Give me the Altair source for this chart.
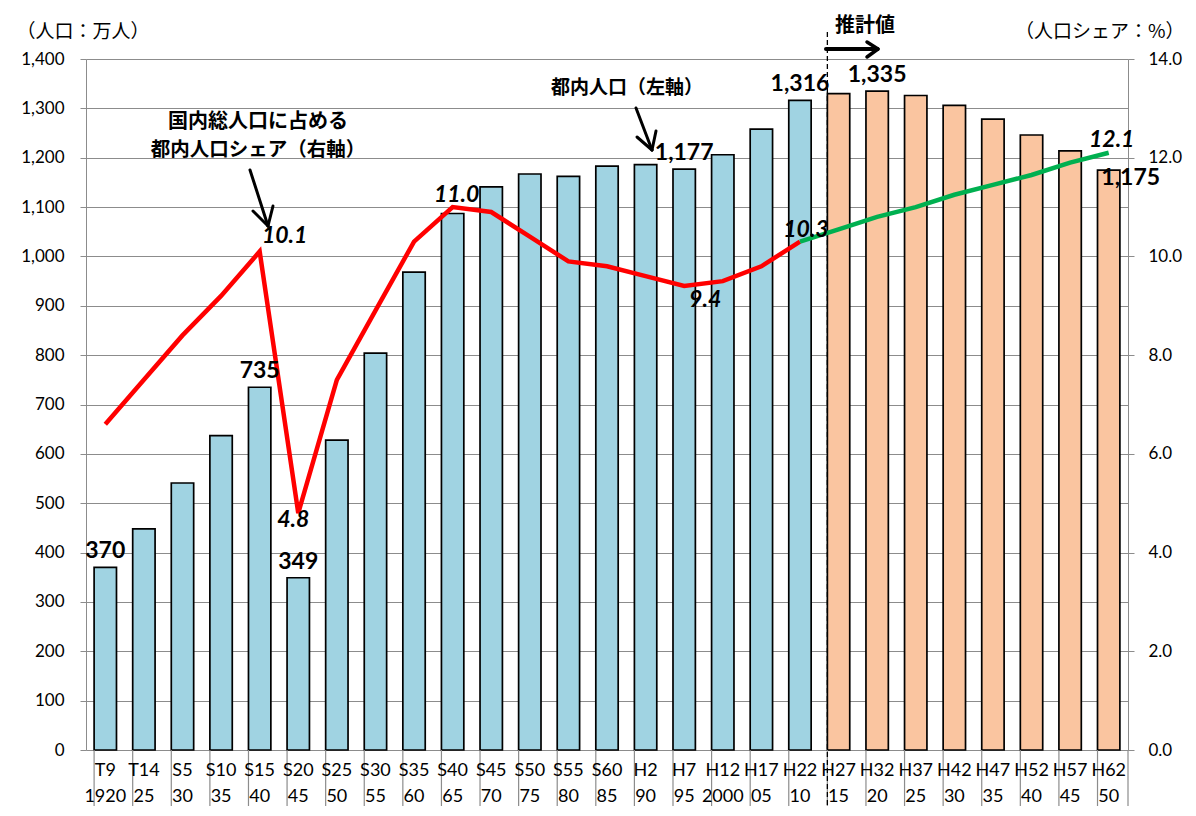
import altair as alt
import pandas as pd

# ---------------- data ----------------
cats_top = ["T9", "T14", "S5", "S10", "S15", "S20", "S25", "S30", "S35", "S40",
            "S45", "S50", "S55", "S60", "H2", "H7", "H12", "H17", "H22",
            "H27", "H32", "H37", "H42", "H47", "H52", "H57", "H62"]
cats_year = ["1920", "25", "30", "35", "40", "45", "50", "55", "60", "65",
             "70", "75", "80", "85", "90", "95", "2000", "05", "10",
             "15", "20", "25", "30", "35", "40", "45", "50"]
population = [370, 448, 541, 637, 735, 349, 628, 804, 968, 1087,
              1141, 1167, 1162, 1183, 1186, 1177, 1206, 1258, 1316,
              1330, 1335, 1326, 1306, 1278, 1246, 1214, 1175]
share_actual = [6.6, 7.5, 8.4, 9.2, 10.1, 4.8, 7.5, 8.9, 10.3, 11.0,
                10.9, 10.4, 9.9, 9.8, 9.6, 9.4, 9.5, 9.8, 10.3]
share_projected = [10.3, 10.55, 10.8, 11.0, 11.25, 11.45, 11.65, 11.9, 12.1]
n_actual = 19

keys = [f"{a}|{b}" for a, b in zip(cats_top, cats_year)]

W, H = 1042, 691
BOTTOM = 747
GRID = "#8c8c8c"
BLUE = "#a0d3e2"
ORANGE = "#fac5a0"
NUMFONT = "Lato"
JPFONT = "Noto Sans CJK JP"

xscale = alt.Scale(domain=keys, paddingInner=0.42, paddingOuter=0.21)
Xn = alt.X("cat:N", scale=xscale, sort=None, axis=None)
pop_scale = alt.Scale(domain=[0, 1400], nice=False, zero=True)
share_scale = alt.Scale(domain=[0, 14], nice=False, zero=True)

bars_df = pd.DataFrame({
    "cat": keys,
    "top": cats_top,
    "year": cats_year,
    "pop": population,
    "period": ["実績"] * n_actual + ["推計"] * (len(keys) - n_actual),
})
red_df = pd.DataFrame({"cat": keys[:n_actual], "share": share_actual})
green_df = pd.DataFrame({"cat": keys[n_actual - 1:], "share": share_projected})

# ---------------- bars ----------------
bars = alt.Chart(bars_df).mark_bar(stroke="black", strokeWidth=1.7).encode(
    x=Xn,
    y=alt.Y("pop:Q", scale=pop_scale,
            axis=alt.Axis(values=list(range(0, 1401, 100)), format=",.0f",
                          grid=True, gridColor=GRID, gridWidth=1.2,
                          tickColor=GRID, tickSize=6, domainColor=GRID,
                          labelPadding=16, labelFontSize=17, labelFont=NUMFONT,
                          labelColor="black",
                          title="（人口：万人）", titleAngle=0, titleX=-70, titleY=-28,
                          titleAlign="left", titleBaseline="middle",
                          titleFont=JPFONT, titleFontSize=19, titleFontWeight="normal",
                          titleColor="black")),
    color=alt.Color("period:N", scale=alt.Scale(domain=["実績", "推計"], range=[BLUE, ORANGE]),
                    legend=None),
)

# category labels (two rows) and separators below the plot
lab_top = alt.Chart(bars_df).mark_text(
    font=NUMFONT, fontSize=18, color="black", baseline="middle").encode(
    x=Xn, y=alt.value(H + 21), text="top:N")
lab_year = alt.Chart(bars_df).mark_text(
    font=NUMFONT, fontSize=18, color="black", baseline="middle").encode(
    x=Xn, y=alt.value(H + 47), text="year:N")
sep = alt.Chart(bars_df).mark_rule(color=GRID, strokeWidth=1.2).encode(
    x=alt.X("cat:N", scale=xscale, sort=None, axis=None, bandPosition=0),
    y=alt.value(H), y2=alt.value(BOTTOM))
sep_end = alt.Chart(pd.DataFrame({"k": [0]})).mark_rule(color=GRID, strokeWidth=1.2).encode(
    x=alt.value(W), y=alt.value(H), y2=alt.value(BOTTOM))

# ---------------- share lines ----------------
red = alt.Chart(red_df).mark_line(color="#ff0000", strokeWidth=4.5).encode(
    x=Xn,
    y=alt.Y("share:Q", scale=share_scale,
            axis=alt.Axis(orient="right", values=list(range(0, 15, 2)), format=".1f",
                          grid=False, tickColor=GRID, tickSize=6, domainColor=GRID,
                          labelPadding=14, labelFontSize=17, labelFont=NUMFONT,
                          labelColor="black",
                          title="（人口シェア：%）", titleAngle=0, titleX=56, titleY=-28,
                          titleAlign="right", titleBaseline="middle",
                          titleFont=JPFONT, titleFontSize=19, titleFontWeight="normal",
                          titleColor="black")),
)
green = alt.Chart(green_df).mark_line(color="#00b050", strokeWidth=4.5).encode(
    x=Xn, y=alt.Y("share:Q", scale=share_scale, axis=None))

# ---------------- value labels ----------------
lab_idx = [0, 4, 5, 15, 18, 20]
barlab_df = pd.DataFrame({
    "cat": [keys[i] for i in lab_idx],
    "pop": [population[i] for i in lab_idx],
    "t": [f"{population[i]:,}" for i in lab_idx],
})
barlabels = alt.Chart(barlab_df).mark_text(
    font=NUMFONT, fontSize=23, fontWeight="bold", color="black", dy=-16, baseline="middle"
).encode(x=Xn, y=alt.Y("pop:Q", scale=pop_scale, axis=None), text="t:N")

last_df = pd.DataFrame({"cat": [keys[-1]], "pop": [population[-1]],
                        "t": [f"{population[-1]:,}"]})
lastlabel = alt.Chart(last_df).mark_text(
    font=NUMFONT, fontSize=23, fontWeight="bold", color="black", dx=22, dy=8, baseline="middle"
).encode(x=Xn, y=alt.Y("pop:Q", scale=pop_scale, axis=None), text="t:N")


def share_label(cat, value, dx, dy):
    df = pd.DataFrame({"cat": [cat], "share": [value], "t": [f"{value:.1f}"]})
    return alt.Chart(df).mark_text(
        font=NUMFONT, fontSize=23, fontWeight="bold", fontStyle="italic", color="black",
        dx=dx, dy=dy, baseline="middle"
    ).encode(x=Xn, y=alt.Y("share:Q", scale=share_scale, axis=None), text="t:N")


share_labels = [
    share_label(keys[4], share_actual[4], 25, -15),
    share_label(keys[5], share_actual[5], -5, 7),
    share_label(keys[9], share_actual[9], 4, -12),
    share_label(keys[15], share_actual[15], 21, 14),
    share_label(keys[18], share_actual[18], 6, -12),
    share_label(keys[-1], share_projected[-1], 3, -13),
]

# ---------------- annotations ----------------
def txt(s, x, y, size=19, weight="bold"):
    return alt.Chart(pd.DataFrame({"t": [s]})).mark_text(
        font=JPFONT, fontSize=size, fontWeight=weight, color="black",
        align="center", baseline="middle"
    ).encode(text="t:N", x=alt.value(x), y=alt.value(y))


def seg(x1, y1, x2, y2, w=3.0):
    return alt.Chart(pd.DataFrame({"k": [0]})).mark_rule(
        color="black", strokeWidth=w, strokeCap="round"
    ).encode(x=alt.value(x1), y=alt.value(y1), x2=alt.value(x2), y2=alt.value(y2))


annotations = [
    txt("国内総人口に占める", 172, 63, 20),
    txt("都内人口シェア（右軸）", 172, 91, 19.5),
    txt("都内人口（左軸）", 541, 29, 19),
    txt("推計値", 779, -33, 20),
    seg(164, 111, 182, 167), seg(167, 152, 182, 167), seg(187, 147, 182, 167),
    seg(550, 49, 566, 91), seg(551, 78, 566, 91), seg(570, 72, 566, 91),
    seg(740, -10, 791, -10, 4), seg(781, -17, 792, -10, 3.5), seg(781, -2, 792, -10, 3.5),
]

divider = alt.Chart(pd.DataFrame({"cat": [keys[n_actual]]})).mark_rule(
    color="black", strokeWidth=1.3, strokeDash=[5, 3]
).encode(x=alt.X("cat:N", scale=xscale, sort=None, axis=None, bandPosition=0),
         y=alt.value(-27), y2=alt.value(BOTTOM))

chart = alt.layer(
    bars, sep, sep_end, lab_top, lab_year, divider, red, green, barlabels, lastlabel,
    *share_labels, *annotations
).resolve_scale(y="independent").properties(
    width=W, height=H,
    autosize=alt.AutoSizeParams(type="none"),
    padding={"left": 78, "top": 51, "right": 60, "bottom": 56},
).configure_view(strokeWidth=0).configure(background="white")

chart.save("out.html", embed_options={"renderer": "svg", "actions": False})
